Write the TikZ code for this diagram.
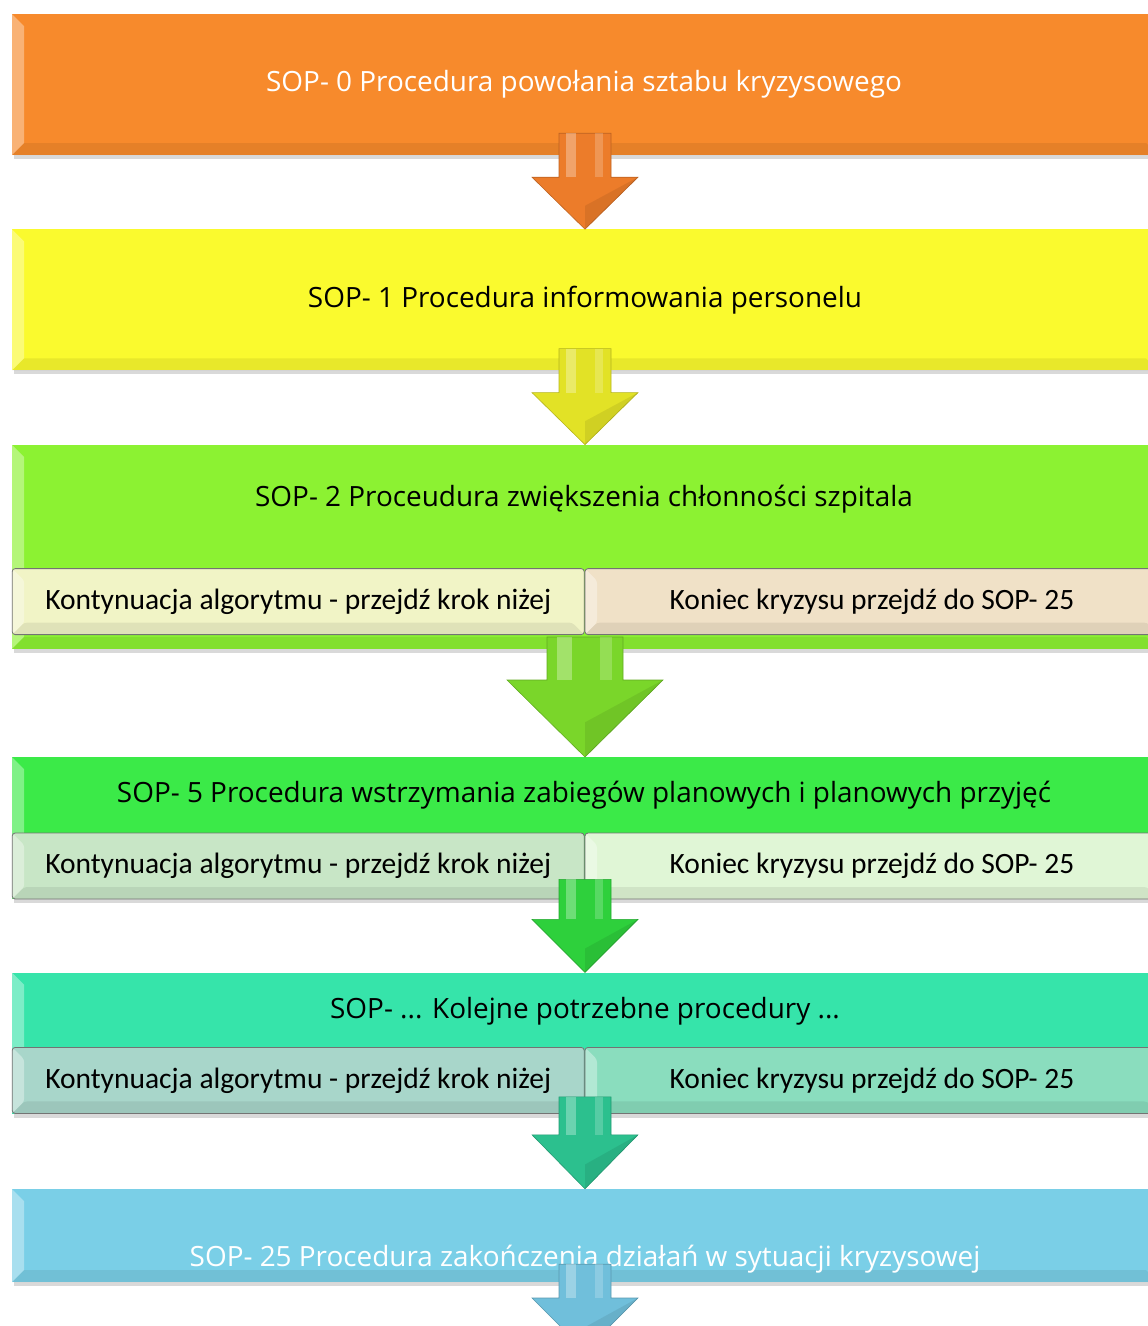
\documentclass[tikz,border=0pt]{standalone}
\usepackage{fontspec}
\setmainfont{Carlito}
\newfontfamily\sopsans{Open Sans}
\usetikzlibrary{calc, shadows, positioning}

\definecolor{sopOrange}{HTML}{F78A2C}
\definecolor{sopYellow}{HTML}{FAFA2E}
\definecolor{sopGreen}{HTML}{8CF232}
\definecolor{sopGreenB}{HTML}{3BEA48}
\definecolor{sopTeal}{HTML}{36E4AA}
\definecolor{sopBlue}{HTML}{7ACFE7}
\definecolor{subYellow}{HTML}{F1F4C6}
\definecolor{subBeige}{HTML}{F0E1C7}
\definecolor{subGrey}{HTML}{C8E6C6}
\definecolor{subMint}{HTML}{E0F6D6}
\definecolor{subTealGrey}{HTML}{A8D6CA}
\definecolor{subTeal}{HTML}{8ADDBE}
\definecolor{arrOrange}{HTML}{EC7C2A}
\definecolor{arrYellow}{HTML}{E2E226}
\definecolor{arrGreen}{HTML}{7AD62A}
\definecolor{arrGreenB}{HTML}{2ED03C}
\definecolor{arrTeal}{HTML}{2CC08E}
\definecolor{arrBlue}{HTML}{70BFDB}

\newcommand{\sopfont}{\sopsans\fontsize{27.9}{32}\selectfont}
\newcommand{\subfont}{\fontsize{29.5}{34}\selectfont}

% block arrow: from, to, colour, overlap, shaft half, head half, head length
\newcommand{\soparrow}[7]{%
  \fill[#3, draw=#3!80!black, line width=0.6pt]
    ($(#1)+(-#5,-#4)$) -- ($(#2)+(-#5,-#7)$) -- ($(#2)+(-#6,-#7)$) -- (#2)
    -- ($(#2)+(#6,-#7)$) -- ($(#2)+(#5,-#7)$) -- ($(#1)+(#5,-#4)$) -- cycle;
  \fill[white, opacity=0.3] ($(#1)+(-0.75*#5,-#4)$) rectangle ($(#2)+(-0.35*#5,-#7)$);
  \fill[white, opacity=0.2] ($(#1)+(0.4*#5,-#4)$) rectangle ($(#2)+(0.7*#5,-#7)$);
  \fill[black, opacity=0.08] ($(#2)+(#6,-#7)$) -- (#2) -- ($(#2)+(0,-0.45*#7)$) -- cycle;
}

\begin{document}
\begin{tikzpicture}[
  x=1pt, y=-1pt,
  node distance=74pt,
  bevel/.style={path picture={
    \fill[white, opacity=0.35] (path picture bounding box.north west) -- ++(12,12)
      -- ($(path picture bounding box.south west)+(12,-12)$) -- (path picture bounding box.south west) -- cycle;
    \fill[black, opacity=0.07] (path picture bounding box.south west) -- ++(12,-12)
      -- ($(path picture bounding box.south east)+(-12,-12)$) -- (path picture bounding box.south east) -- cycle;}},
  sopbox/.style={rectangle, minimum width=1146pt, inner sep=0pt, bevel,
    drop shadow={opacity=0.3, shadow xshift=2pt, shadow yshift=-4pt}},
  subbox/.style={rectangle, rounded corners=3pt, draw=black!55, line width=0.8pt,
    minimum height=66pt, inner sep=0pt, font=\subfont, bevel},
  soptext/.style={font=\sopfont, inner sep=0pt},
]
\useasboundingbox (0,0) rectangle (1148,1326);
\clip (0,0) rectangle (1148,1326);

\node[sopbox, fill=sopOrange, minimum height=141pt] (sop0) at (585,84.5) {};
\node[soptext, text=white] (sop0t) at (584,84.5) {SOP- 0 Procedura powołania sztabu kryzysowego};

\node[sopbox, fill=sopYellow, minimum height=141pt, below=of sop0] (sop1) {};
\node[soptext] (sop1t) at (sop1) {SOP- 1 Procedura informowania personelu};

\node[sopbox, fill=sopGreen, minimum height=204pt, below=of sop1] (sop2) {};
\node[soptext] (sop2t) at ($(sop2.north)+(-1,55)$) {SOP- 2 Proceudura zwiększenia chłonności szpitala};
\node[subbox, fill=subYellow, minimum width=572pt, anchor=south west] (sop2a)
  at ($(sop2.south west)+(0,-14)$) {Kontynuacja algorytmu - przejdź krok niżej};
\node[subbox, fill=subBeige, minimum width=574pt, right=0pt of sop2a] (sop2b)
  {Koniec kryzysu przejdź do SOP- 25};

\node[sopbox, fill=sopGreenB, minimum height=142pt, below=108pt of sop2] (sop5) {};
\node[soptext] (sop5t) at ($(sop5.north)+(-1,38)$) {SOP- 5 Procedura wstrzymania zabiegów planowych i planowych przyjęć};
\node[subbox, fill=subGrey, minimum width=572pt, anchor=south west] (sop5a)
  at (sop5.south west) {Kontynuacja algorytmu - przejdź krok niżej};
\node[subbox, fill=subMint, minimum width=574pt, right=0pt of sop5a] (sop5b)
  {Koniec kryzysu przejdź do SOP- 25};

\node[sopbox, fill=sopTeal, minimum height=141pt, below=73pt of sop5] (sopx) {};
\node[soptext] (sopxt) at ($(sopx.north)+(0,39)$) {SOP- ... Kolejne potrzebne procedury ...};
\node[subbox, fill=subTealGrey, minimum width=572pt, anchor=south west] (sopxa)
  at (sopx.south west) {Kontynuacja algorytmu - przejdź krok niżej};
\node[subbox, fill=subTeal, minimum width=574pt, right=0pt of sopxa] (sopxb)
  {Koniec kryzysu przejdź do SOP- 25};

\node[sopbox, fill=sopBlue, minimum height=93pt, below=75pt of sopx] (sop25) {};
\node[soptext, text=white] (sop25t) at ($(sop25.north)+(0,70)$) {SOP- 25 Procedura zakończenia działań w sytuacji kryzysowej};
\coordinate (sopend) at (585,1351);

\soparrow{sop0.south}{sop1.north}{arrOrange}{22}{26}{53}{52}
\soparrow{sop1.south}{sop2.north}{arrYellow}{22}{26}{53}{52}
\soparrow{sop2.south}{sop5.north}{arrGreen}{12}{38}{78}{77}
\soparrow{sop5.south}{sopx.north}{arrGreenB}{20}{26}{53}{53}
\soparrow{sopx.south}{sop25.north}{arrTeal}{17}{26}{53}{54}
\soparrow{sop25.south}{sopend}{arrBlue}{18}{26}{53}{53}
\end{tikzpicture}
\end{document}
